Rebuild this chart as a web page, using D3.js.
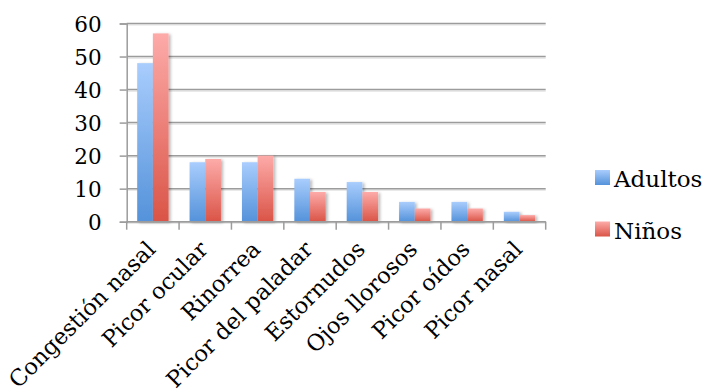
<!DOCTYPE html>
<html>
<head>
<meta charset="utf-8">
<script src="https://cdn.jsdelivr.net/npm/d3@7"></script>
<style>
  html, body { margin: 0; padding: 0; background: #fff; }
  svg { display: block; }
  text { font-family: "DejaVu Serif", serif; fill: #000; }
</style>
</head>
<body>
<svg id="chart" width="704" height="392"></svg>
<script>
const categories = ["Congestión nasal", "Picor ocular", "Rinorrea", "Picor del paladar", "Estornudos", "Ojos llorosos", "Picor oídos", "Picor nasal"];
const seriesNames = ["Adultos", "Niños"];
const adultos = [48, 18, 18, 13, 12, 6, 6, 3];
const ninos = [57, 19, 20, 9, 9, 4, 4, 2];
const yTicks = [0, 10, 20, 30, 40, 50, 60];

const svg = d3.select("#chart");
const pLeft = 126.7, pRight = 545.7, pTop = 23.5, pBottom = 221.7;

const defs = svg.append("defs");
const grads = [
  { id: "gBlue", c0: "#a9cdfd", c1: "#5492da" },
  { id: "gRed", c0: "#fdaba9", c1: "#da5447" }
];
grads.forEach(g => {
  const lg = defs.append("linearGradient").attr("id", g.id)
    .attr("x1", 0).attr("y1", 0).attr("x2", 0).attr("y2", 1);
  lg.append("stop").attr("offset", "0%").attr("stop-color", g.c0);
  lg.append("stop").attr("offset", "100%").attr("stop-color", g.c1);
});
const f = defs.append("filter").attr("id", "shadow")
  .attr("x", "-30%").attr("y", "-10%").attr("width", "160%").attr("height", "130%");
f.append("feDropShadow").attr("dx", 2).attr("dy", 1).attr("stdDeviation", 1.6)
  .attr("flood-color", "#000").attr("flood-opacity", 0.28);

const x = d3.scaleBand().domain(categories).range([pLeft, pRight]).paddingInner(0).paddingOuter(0);
const y = d3.scaleLinear().domain([0, 60]).range([pBottom, pTop]);
const x1 = d3.scaleBand().domain(seriesNames).range([0, x.bandwidth()]).paddingInner(0).paddingOuter(0.67);

// gridlines (with light shadow line under)
svg.append("g").selectAll("line").data(yTicks).join("line")
  .attr("x1", pLeft).attr("x2", pRight)
  .attr("y1", d => y(d) + 1.5).attr("y2", d => y(d) + 1.5)
  .attr("stroke", "#e2e2e2").attr("stroke-width", 1.2);
svg.append("g").selectAll("line").data(yTicks).join("line")
  .attr("x1", pLeft).attr("x2", pRight)
  .attr("y1", d => y(d)).attr("y2", d => y(d))
  .attr("stroke", "#9c9c9c").attr("stroke-width", 1.5);

// y axis
const yAxis = d3.axisLeft(y).tickValues(yTicks).tickSize(7).tickPadding(18).tickFormat(d3.format("d"));
const gy = svg.append("g").attr("transform", `translate(${pLeft},0)`).call(yAxis);
gy.select(".domain").attr("stroke", "#9c9c9c").attr("stroke-width", 1.5);
gy.selectAll(".tick line").attr("stroke", "#9c9c9c").attr("stroke-width", 1.5);
gy.selectAll(".tick text").style("font-family", "DejaVu Serif").style("font-size", "21.5px").attr("dy", "0.36em").attr("fill", "#000");

// x axis tick marks at category boundaries
const bounds = categories.map(c => x(c)).concat([pRight]);
svg.append("g").selectAll("line").data(bounds).join("line")
  .attr("x1", d => d).attr("x2", d => d)
  .attr("y1", pBottom).attr("y2", pBottom + 8)
  .attr("stroke", "#9c9c9c").attr("stroke-width", 1.5);

// bars
const data = categories.map((c, i) => ({ c, vals: [adultos[i], ninos[i]] }));
const groups = svg.append("g").selectAll("g").data(data).join("g")
  .attr("transform", d => `translate(${x(d.c)},0)`);
groups.selectAll("rect").data(d => d.vals.map((v, j) => ({ v, s: seriesNames[j], j })))
  .join("rect")
  .attr("x", d => x1(d.s))
  .attr("width", x1.bandwidth())
  .attr("y", d => y(d.v))
  .attr("height", d => pBottom - y(d.v))
  .attr("fill", d => d.j === 0 ? "url(#gBlue)" : "url(#gRed)")
  .attr("filter", "url(#shadow)");

// x axis line on top
svg.append("line").attr("x1", pLeft).attr("x2", pRight).attr("y1", pBottom).attr("y2", pBottom)
  .attr("stroke", "#9c9c9c").attr("stroke-width", 1.5);

// category labels
svg.append("g").selectAll("text").data(categories).join("text")
  .attr("transform", d => `translate(${x(d) + x.bandwidth() / 2 + 4},${pBottom + 29}) rotate(-45)`)
  .attr("text-anchor", "end")
  .style("font-size", "22.5px")
  .text(d => d);

// legend
const legend = svg.append("g");
const legY = [170, 221.5];
seriesNames.forEach((s, i) => {
  legend.append("rect").attr("x", 595).attr("y", legY[i]).attr("width", 15).attr("height", 15)
    .attr("fill", i === 0 ? "url(#gBlue)" : "url(#gRed)");
  legend.append("text").attr("x", 614).attr("y", legY[i] + 17)
    .style("font-size", "23px").text(s);
});
</script>
</body>
</html>
